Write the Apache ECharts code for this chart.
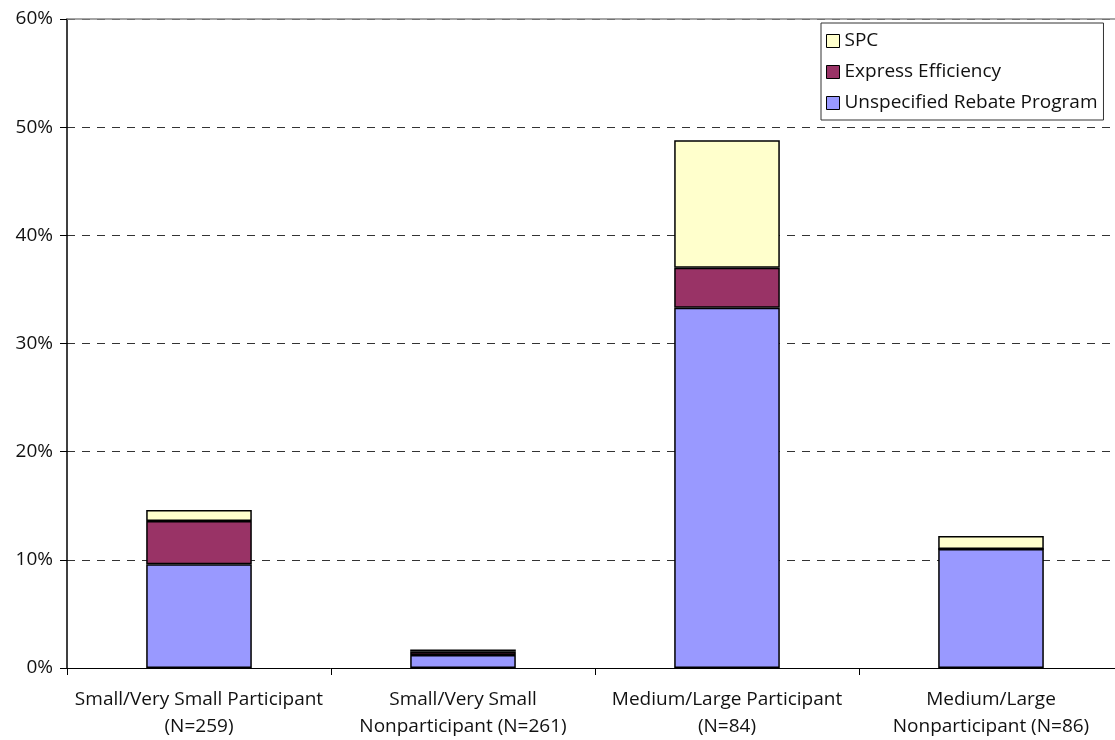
<!DOCTYPE html>
<html>
<head>
<meta charset="utf-8">
<script src="https://cdn.jsdelivr.net/npm/echarts@6/dist/echarts.min.js"></script>
<style>
  html, body { margin: 0; padding: 0; background: #fff; overflow: hidden; }
  /* the plot runs slightly past the right edge of the window */
  #chart { width: 1123px; height: 740px; }
</style>
</head>
<body>
<div id="chart"></div>
<script>
// Share of firms (%) by rebate program, per customer segment
const categories = [
  'Small/Very Small Participant\n(N=259)',
  'Small/Very Small\nNonparticipant (N=261)',
  'Medium/Large Participant\n(N=84)',
  'Medium/Large\nNonparticipant (N=86)'
];
const unspecifiedRebate = [9.6, 1.2, 33.3, 11.0];
const expressEfficiency = [4.0, 0.3, 3.7, 0.0];
const spc = [1.0, 0.2, 11.8, 1.2];
const yTicks = { min: 0, max: 60, interval: 10 };

const FONT = 'Open Sans';
const FONT_SIZE = 19;
const barBorder = { borderColor: '#000', borderWidth: 1.5 };

const chart = echarts.init(document.getElementById('chart'), null, { renderer: 'canvas' });

function barSeries(name, data, color) {
  return {
    name: name,
    type: 'bar',
    stack: 'total',
    barWidth: '40%',
    data: data,
    itemStyle: Object.assign({ color: color }, barBorder),
    emphasis: { disabled: true }
  };
}

chart.setOption({
  animation: false,
  textStyle: { fontFamily: FONT },
  grid: { left: 67, right: 0, top: 19, bottom: 69, containLabel: false },
  legend: {
    data: ['SPC', 'Express Efficiency', 'Unspecified Rebate Program'],
    orient: 'vertical',
    left: 821,
    top: 23,
    padding: [8, 6, 7, 5],
    borderColor: '#333',
    borderWidth: 1,
    backgroundColor: '#fff',
    icon: 'rect',
    itemWidth: 13,
    itemHeight: 13,
    itemGap: 11,
    itemStyle: { borderColor: '#000', borderWidth: 1 },
    textStyle: { fontFamily: FONT, fontSize: FONT_SIZE, color: '#111', lineHeight: 20 }
  },
  xAxis: [
    {
      type: 'category',
      data: categories,
      axisLine: { lineStyle: { color: '#000', width: 1 } },
      axisTick: { show: true, length: 7, lineStyle: { color: '#000' } },
      axisLabel: {
        fontFamily: FONT, fontSize: FONT_SIZE, color: '#111',
        lineHeight: 27, margin: 18, interval: 0, align: 'center'
      }
    },
    {
      type: 'category',
      position: 'top',
      data: categories,
      axisLine: { show: true, lineStyle: { color: '#888', width: 1.5 } },
      axisTick: { show: false },
      axisLabel: { show: false }
    }
  ],
  yAxis: {
    type: 'value',
    min: yTicks.min,
    max: yTicks.max,
    interval: yTicks.interval,
    axisLine: { show: true, lineStyle: { color: '#000', width: 1.5 } },
    axisTick: { show: true, length: 7, lineStyle: { color: '#000' } },
    axisLabel: {
      fontFamily: FONT, fontSize: FONT_SIZE, color: '#111', margin: 14,
      formatter: '{value}%'
    },
    splitLine: {
      show: true,
      lineStyle: { color: '#333', width: 1, type: [8, 7] }
    }
  },
  series: [
    barSeries('Unspecified Rebate Program', unspecifiedRebate, '#9999FF'),
    barSeries('Express Efficiency', expressEfficiency, '#993366'),
    barSeries('SPC', spc, '#FFFFCC')
  ]
});
</script>
</body>
</html>
